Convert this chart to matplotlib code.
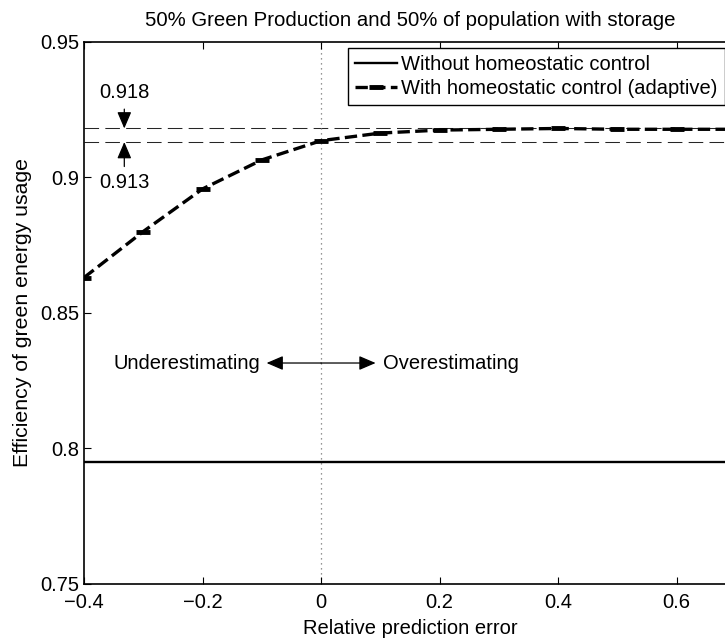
import matplotlib
matplotlib.use('Agg')
import matplotlib.pyplot as plt

plt.rcParams['font.family'] = ['Liberation Sans', 'DejaVu Sans']
plt.rcParams['font.size'] = 14.5

# Données
x_err = [-0.4, -0.3, -0.2, -0.1, 0.0, 0.1, 0.2, 0.3, 0.4, 0.5, 0.6, 0.7]
eff_without = [0.795] * len(x_err)
eff_adaptive = [0.863, 0.880, 0.8957, 0.9064, 0.9135, 0.9163,
                0.9174, 0.9177, 0.918, 0.9177, 0.9177, 0.9177]
ref_levels = [0.918, 0.913]
x_ticks = [-0.4, -0.2, 0, 0.2, 0.4, 0.6]
y_ticks = [0.75, 0.8, 0.85, 0.9, 0.95]
y_tick_labels = ['0.75', '0.8', '0.85', '0.9', '0.95']
x_tick_labels = ['\u22120.4', '\u22120.2', '0', '0.2', '0.4', '0.6']

fig = plt.figure(figsize=(7.25, 6.39), dpi=100)
ax = fig.add_axes([84 / 725, 55 / 639, 652 / 725, 542.3 / 639])

# lignes de référence
for lvl in ref_levels:
    ax.axhline(lvl, color='0.15', lw=0.75, linestyle=(0, (14, 6)), zorder=1)
ax.axvline(0, color='0.45', lw=0.9, linestyle=(0, (1, 3)), zorder=1)

ax.plot(x_err, eff_without, color='black', lw=1.7, label='Without homeostatic control')
ax.plot(x_err, eff_adaptive, color='black', lw=2.4, linestyle='--',
        marker='_', markersize=10, markeredgewidth=3.5,
        label='With homeostatic control (adaptive)')

ax.set_xlim(-0.4, 0.7)
ax.set_ylim(0.75, 0.95)
ax.set_xticks(x_ticks)
ax.set_xticklabels(x_tick_labels)
ax.set_yticks(y_ticks)
ax.set_yticklabels(y_tick_labels)
ax.tick_params(direction='in', length=5, width=0.8, top=True, right=True)
ax.tick_params(axis='x', pad=6.5)
ax.tick_params(axis='y', pad=3.5)
for sp in ax.spines.values():
    sp.set_linewidth(1.2)

ax.set_xlabel('Relative prediction error', fontsize=14.5)
ax.xaxis.set_label_coords(0.5, -0.065)
ax.set_ylabel('Efficiency of green energy usage', fontsize=15.3)
ax.yaxis.set_label_coords(-0.079, 0.5)
ax.set_title('50% Green Production and 50% of population with storage', fontsize=14.7,
             y=1.013)

# annotations
arrow = dict(arrowstyle='-|>,head_length=0.7,head_width=0.3', color='black',
             lw=0.9, shrinkA=3, shrinkB=0)
ax.annotate('0.918', xy=(-0.332, 0.918), xytext=(-0.332, 0.9312),
            ha='center', va='center', arrowprops=arrow)
ax.annotate('0.913', xy=(-0.332, 0.913), xytext=(-0.332, 0.8979),
            ha='center', va='center', arrowprops=arrow)
ax.annotate('', xy=(-0.092, 0.8315), xytext=(0, 0.8315), arrowprops=dict(arrow, shrinkA=0))
ax.annotate('', xy=(0.092, 0.8315), xytext=(0, 0.8315), arrowprops=dict(arrow, shrinkA=0))
ax.text(-0.103, 0.8315, 'Underestimating', ha='right', va='center')
ax.text(0.104, 0.8315, 'Overestimating', ha='left', va='center')

leg = ax.legend(loc='upper left', bbox_to_anchor=(0.405, 0.988), fancybox=False,
                edgecolor='black', framealpha=1, borderpad=0.35, labelspacing=0.22,
                handlelength=2.1, handletextpad=0.2, borderaxespad=0)
leg.get_frame().set_linewidth(1.0)

fig.savefig('out.png', dpi=100)
